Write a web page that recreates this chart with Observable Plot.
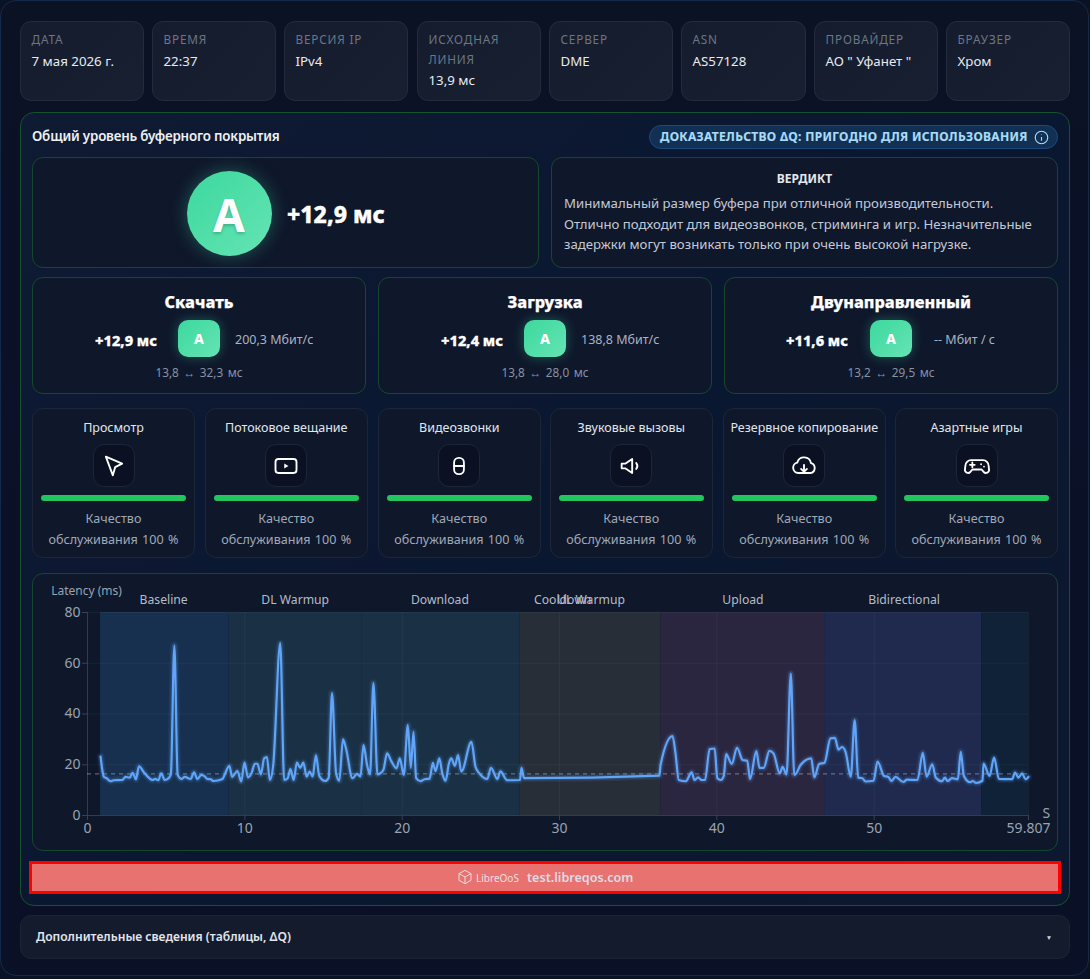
<!DOCTYPE html>
<html lang="ru"><head><meta charset="utf-8">
<script src="https://cdn.jsdelivr.net/npm/d3@7"></script>
<script src="https://cdn.jsdelivr.net/npm/@observablehq/plot@0.6"></script>
<style>
html,body{margin:0;padding:0;width:1090px;height:979px;overflow:hidden;background:#0a1226;font-family:"Noto Sans",sans-serif;color:#e5e7eb}
#page{position:relative;width:1090px;height:979px;overflow:hidden}
.box{position:absolute;box-sizing:border-box}
.t{position:absolute;white-space:nowrap;line-height:1;transform:translateY(-50%)}
.c{transform:translate(-50%,-50%)}
.r{transform:translate(-100%,-50%)}
.tile{background:linear-gradient(135deg,#3dd89e,#64e4b4);box-shadow:0 0 12px rgba(61,216,158,.35);display:flex;align-items:center;justify-content:center;color:#fff;font-weight:800}
#chart svg{display:block;overflow:hidden;background:transparent}
</style></head><body><div id="page"></div>
<script>
// ---------- data ----------
const headerLabels=["ДАТА","ВРЕМЯ","ВЕРСИЯ IP","ИСХОДНАЯ\nЛИНИЯ","СЕРВЕР","ASN","ПРОВАЙДЕР","БРАУЗЕР"];
const headerValues=["7 мая 2026 г.","22:37","IPv4","13,9 мс","DME","AS57128","АО \" Уфанет \"","Хром"];
const headerLefts=[20,152,284,417,549,681,814,946];
const dirNames=["Скачать","Загрузка","Двунаправленный"];
const dirDelta=["+12,9 мс","+12,4 мс","+11,6 мс"];
const dirSpeed=["200,3 Мбит/с","138,8 Мбит/с","-- Мбит / с"];
const dirRange=[["13,8","32,3"],["13,8","28,0"],["13,2","29,5"]];
const qosNames=["Просмотр","Потоковое вещание","Видеозвонки","Звуковые вызовы","Резервное копирование","Азартные игры"];
const verdictLines=["Минимальный размер буфера при отличной производительности.","Отлично подходит для видеозвонков, стриминга и игр. Незначительные","задержки могут возникать только при очень высокой нагрузке."];

const seconds=[.83,1.04,1.21,1.46,1.68,2.21,2.42,2.68,2.87,3.08,3.27,3.59,3.93,4.12,4.31,4.5,4.69,4.9,5.16,5.3,5.52,5.73,5.97,6.18,6.56,6.77,6.98,7.24,7.45,7.62,7.83,8.0,8.58,8.75,9.02,9.19,9.53,9.77,9.98,10.2,10.42,10.64,10.8,11.02,11.23,11.4,11.59,11.8,12.25,12.5,12.72,12.9,13.1,13.31,13.52,13.72,13.93,14.12,14.31,14.52,14.73,15.1,15.33,15.54,15.8,16.0,16.24,16.43,16.84,17.13,17.35,17.54,17.77,17.96,18.17,18.43,18.8,19.04,19.3,19.64,19.85,20.1,20.36,20.55,20.72,20.89,21.17,21.42,21.74,21.95,22.12,22.36,22.55,22.76,22.97,23.12,23.35,23.55,23.76,24.4,24.66,24.92,25.41,25.64,26.05,26.24,26.67,27.49,27.58,27.75,36.35,36.42,37.18,37.36,37.58,38.03,38.4,38.58,38.81,39.03,39.25,39.54,39.86,40.03,40.26,40.44,40.59,40.95,41.28,41.64,41.93,42.11,42.51,42.71,42.98,43.34,43.6,44.0,44.18,44.43,44.7,44.92,45.05,45.32,46.0,46.19,46.5,46.84,47.22,47.5,47.73,47.95,48.18,48.51,48.76,48.98,49.25,49.45,49.96,50.21,50.63,50.9,51.1,51.35,51.86,52.08,52.75,53.09,53.33,53.69,53.91,54.31,54.49,54.67,54.94,55.32,55.5,55.7,56.1,56.26,56.48,56.88,56.95,57.33,57.62,57.93,58.44,58.77,58.95,59.17,59.4,59.62,59.8];
const latency=[23.2,15.3,14.7,13.5,13.9,14,15.2,14.9,16.8,14.3,19.4,17,14.7,14,14.4,13.9,16.6,14,14.7,16.4,67,16,14.4,15.2,14.4,17,14.4,16,15.4,14.4,14.3,13.6,14.4,16.6,19.6,15.2,17.5,13.4,20.8,15,16.6,20.4,20.4,16.2,22.5,23,14,19.6,67.9,14,14.7,18.3,14,20.8,18.8,20.8,15.3,17.3,15.4,23.7,15.6,13.6,14.9,48.2,16.6,13.7,30,26.4,14.7,16.4,15.4,27.7,19.9,16.2,52.2,16.2,17.9,24.5,21.5,18.6,22.5,16,35.6,18.8,33,14.7,13.5,14.3,14.5,20.7,17.5,22.5,16.6,13.7,20.5,22.5,19.6,23.8,17.3,29,19.2,16.5,14.4,18.8,14.4,17.4,13.9,14,18.8,14.7,15.7,19.9,31.3,25.1,14,13.5,17,14,15,14,14,26.2,26.4,14.7,14,15.6,24.2,20.3,26.7,21.9,21.6,14.4,25.4,18.8,18.8,25.5,24.5,16.6,19.2,16.2,55.9,16,16.6,19.9,22.5,15,20.3,20.8,30.4,30.6,26,27,25.1,15.3,37.6,14.9,14.7,13.4,13.7,21.2,15.6,15.2,13.6,15.2,13.2,14.1,14,24.7,15.3,20.2,15,13.5,14.9,13.6,14.7,14.3,25.1,15.6,13.1,13.6,12.8,13.7,20.5,15.6,22.8,14.4,14.3,14.3,16.9,14.9,16.6,14.3,15.2];

const bandStart=[.83,9,17.47,27.5,36.46,46.85,56.84];
const bandEnd=[9,17.47,27.5,36.46,46.85,56.84,59.807];
const bandFill=["#17304f","#1a3044","#1a3044","#272e38","#2a2640","#1f2a4e","#102238"];
const phaseLabels=["Baseline","DL Warmup","Download","Cooldown","UL Warmup","Upload","Bidirectional"];
const phaseCentre=[4.84,13.2,22.4,30.2,32,41.66,51.9];
const yTicks=[0,20,40,60,80];
const xTicks=[0,10,20,30,40,50,59.807];
const baselineRef=16.4;

// ---------- helpers ----------
const page=document.getElementById("page");
function box(x,y,w,h,css,parent=page){const d=document.createElement("div");d.className="box";d.style.cssText=`left:${x}px;top:${y}px;width:${w}px;height:${h}px;`+css;parent.appendChild(d);return d}
function text(s,x,y,size,color,weight=400,align="",extra=""){const d=document.createElement("div");d.className="t "+align;d.textContent=s;d.style.cssText=`left:${x}px;top:${y}px;font-size:${size}px;color:${color};font-weight:${weight};`+extra;page.appendChild(d);return d}

// ---------- frame ----------
box(0,0,1089,976,"border-radius:16px;border:1px solid #14294a;background:linear-gradient(180deg,#0b1224,#0a1128 40%,#0a1126);");

// ---------- header ----------
headerLabels.forEach((l,i)=>{
  const x=headerLefts[i];
  box(x,21,i==5?125:124,79.5,"border-radius:11px;border:1px solid #232c3d;background:linear-gradient(135deg,#151c2e,#171f30);");
  const parts=l.split("\n");
  parts.forEach((p,j)=>text(p,x+11.5,40+j*19.5,11.8,"#6b7686",400,"","letter-spacing:.8px"));
  text(headerValues[i],x+11.5,parts.length>1?81:61.5,13.3,"#e8eaee");
});

// ---------- main panel ----------
box(20,112,1050,794,"border-radius:14px;border:1px solid #14532d;background:linear-gradient(135deg,#0f1a33,#0a1730 55%,#0b182f);");
text("Общий уровень буферного покрытия",32,137,13.4,"#eef0f3",600,"","letter-spacing:-.2px");
box(649,125,409,24,"border-radius:12px;border:1px solid #1d4a78;background:#123053;");
text("ДОКАЗАТЕЛЬСТВО ΔQ: ПРИГОДНО ДЛЯ ИСПОЛЬЗОВАНИЯ",660,137,12,"#a9dcf7",700,"","letter-spacing:.32px;-webkit-text-stroke:.15px #a9dcf7");
const panelCss="border-radius:11px;border:1px solid #15472f;background:#0f172b;";
box(32,157,507,111,panelCss);
box(551,157,507,111,panelCss);
box(186.5,171,85,85,"border-radius:50%;background:linear-gradient(135deg,#3dd89e,#64e4b4);box-shadow:0 0 18px rgba(61,216,158,.35);");
text("A",229,214,46,"#fff",700,"c","text-shadow:0 2px 3px rgba(0,0,0,.2)");
text("+12,9 мс",287,214,23,"#fff",800,"","-webkit-text-stroke:.4px #fff");
text("ВЕРДИКТ",804.5,178.5,12,"#e5e7eb",700,"c");
verdictLines.forEach((l,i)=>text(l,564,204+i*20.7,13.2,"#c3cad5"));

// info icon
const info=document.createElementNS("http://www.w3.org/2000/svg","svg");
info.setAttribute("width",15);info.setAttribute("height",15);info.setAttribute("viewBox","0 0 24 24");
info.style.cssText="position:absolute;left:1033.5px;top:129.5px;fill:none;stroke:#a9dcf7;stroke-width:1.8";
info.innerHTML='<circle cx="12" cy="12" r="10"/><path d="M12 11v6M12 7v1"/>';
page.appendChild(info);

// ---------- direction cards ----------
const dirLeft=[32,378,724],tileX=[178,524,870],deltaEnd=[157,503,848],speedX=[235,581,934],centre=[199,545,891];
dirNames.forEach((n,i)=>{
  box(dirLeft[i],277,334,117,panelCss);
  text(n,dirLeft[i]+167,302,16.3,"#fff",800,"c","-webkit-text-stroke:.25px #fff");
  text(dirDelta[i],deltaEnd[i],339.5,14.6,"#fff",800,"r","-webkit-text-stroke:.3px #fff");
  const t=box(tileX[i],320,42,37,"border-radius:10px;font-size:14px;");t.classList.add("tile");t.textContent="A";
  text(dirSpeed[i],speedX[i],339.5,12.5,"#aab3c0");
  text(`${dirRange[i][0]} ↔ ${dirRange[i][1]} мс`,centre[i],373,11.8,"#8792a3",400,"c","word-spacing:1.5px");
});

// ---------- QoS cards ----------
const icons=[
 '<path d="M5 4l14 6-6 3-2 7z"/>',
 '<rect x="3" y="6" width="18" height="12" rx="2.5"/><path d="M10.5 9.8v4.4l3.6-2.2z" fill="#fff" stroke="none"/>',
 '<rect x="7.8" y="5" width="8.4" height="14" rx="4"/><path d="M7.8 12h8.4"/>',
 '<path d="M4 10v4h3l6 4V6L7 10zM16.5 9.5a4 4 0 0 1 0 5"/>',
 '<path d="M7 18a4.5 4.5 0 0 1-.7-8.9A6 6 0 0 1 18 9.6 4.3 4.3 0 0 1 17.5 18zM12 11v6M9.5 14.5L12 17l2.5-2.5"/>',
 '<path d="M7 7h10a5 5 0 0 1 5 5l.3 3a2.6 2.6 0 0 1-4.6 2L16 15H8l-1.7 2a2.6 2.6 0 0 1-4.6-2L2 12a5 5 0 0 1 5-5zM6 11h4M8 9v4M15.5 10.5v.01M18 12.5v.01"/>'
];
const qosLeft=[32,205,378,550,723,895];
qosNames.forEach((n,i)=>{
  const x=qosLeft[i],w=i==5?163:(i==0?163:162.5);
  box(x,408,w,150,"border-radius:11px;border:1px solid #1c2638;background:#0f172b;");
  const cx=x+w/2;
  text(n,cx,427.5,12.5,"#e2e6ec",400,"c");
  box(cx-21,444,42,43,"border-radius:11px;border:1px solid #1c2638;background:#0b1122;");
  const s=document.createElementNS("http://www.w3.org/2000/svg","svg");
  s.setAttribute("width",28);s.setAttribute("height",28);s.setAttribute("viewBox","0 0 24 24");
  s.style.cssText=`position:absolute;left:${cx-14}px;top:452px;fill:none;stroke:#fff;stroke-width:1.6;stroke-linejoin:round;stroke-linecap:round`;
  s.innerHTML=icons[i];page.appendChild(s);
  box(x+9,494.5,w-18,6,"border-radius:3px;background:#22c55e;");
  text("Качество",cx,518.5,12.6,"#a0a9b6",400,"c");
  text("обслуживания 100 %",cx,539.5,12.6,"#a0a9b6",400,"c","word-spacing:1px");
});

// ---------- chart card ----------
box(32,573,1026,278,"border-radius:11px;border:1px solid #15472f;background:#0f172b;");
const chartHost=box(36,577,1014,270,"");chartHost.id="chart";

const series=seconds.map((t,i)=>({t,v:latency[i]}));
const bands=bandStart.map((s,i)=>({s,e:bandEnd[i],f:bandFill[i]}));
const phases=phaseLabels.map((l,i)=>({l,x:phaseCentre[i]}));
const grey="#9aa3b0";

chartHost.appendChild(Plot.plot({
  width:1014,height:270,marginLeft:51,marginRight:22,marginTop:35,marginBottom:32,
  style:{background:"transparent",fontFamily:'"Noto Sans",sans-serif',color:grey,overflow:"hidden"},
  x:{domain:[0,59.807],label:null},
  y:{domain:[0,80],label:null},
  marks:[
    Plot.rect(bands,{x1:"s",x2:"e",y1:()=>0,y2:()=>80,fill:"f"}),
    Plot.ruleY(yTicks,{stroke:"#fff",strokeOpacity:.045}),
    Plot.ruleX(xTicks,{stroke:"#fff",strokeOpacity:.045}),
    Plot.ruleY([0],{stroke:"#fff",strokeOpacity:.12}),
    Plot.ruleX([0],{stroke:"#fff",strokeOpacity:.12}),
    Plot.ruleY([baselineRef],{stroke:"#c8ced8",strokeOpacity:.42,strokeWidth:1.2,strokeDasharray:"4 4"}),
    Plot.line(series,{x:"t",y:"v",stroke:"#60a5fa",strokeWidth:8,strokeOpacity:.07,curve:"monotone-x"}),
    Plot.line(series,{x:"t",y:"v",stroke:"#60a5fa",strokeWidth:5,strokeOpacity:.17,curve:"monotone-x"}),
    Plot.line(series,{x:"t",y:"v",stroke:"#60a5fa",strokeWidth:2.2,curve:"monotone-x"}),
    Plot.axisX({ticks:xTicks,tickFormat:d=>String(d),tickSize:5,tickPadding:3,fontSize:14,stroke:"#39414f",color:grey,label:null}),
    Plot.axisY({ticks:yTicks,tickSize:5,tickPadding:2,fontSize:14,stroke:"#39414f",color:grey,label:null}),
    Plot.text(phases,{x:"x",y:()=>80,text:"l",dy:-12,fontSize:12.2,fill:"#b6bcc6"}),
    Plot.text(["Latency (ms)"],{x:()=>0,y:()=>80,dx:-1,dy:-21,fontSize:12,fill:"#9aa3b0"}),
    Plot.text(["Seconds"],{x:()=>59.807,y:()=>0,dx:14,dy:-2,textAnchor:"start",fontSize:14,fill:"#9aa3b0"})
  ]
}));

// ---------- highlighted source strip ----------
box(29,861,1032,33,"border:3px solid #f00;background:#e87270;");
const cube=document.createElementNS("http://www.w3.org/2000/svg","svg");
cube.setAttribute("width",16);cube.setAttribute("height",18);cube.setAttribute("viewBox","0 0 24 24");
cube.style.cssText="position:absolute;left:457px;top:868px;fill:none;stroke:#e9e3e6;stroke-width:1.4";
cube.innerHTML='<path d="M12 2l9 5v10l-9 5-9-5V7zM3 7l9 5 9-5M12 12v10"/>';
page.appendChild(cube);
text("LibreOoS",476,877.5,10,"#ecdfe2");
text("test.libreqos.com",527,877.5,12.6,"#dfdce6",600);

// ---------- details row ----------
box(20,915,1050,44,"border-radius:11px;border:1px solid #1b2334;background:#141b2d;");
text("Дополнительные сведения (таблицы, ΔQ)",36,937,12.1,"#e2e6ec",600);
text("▼",1049,938,6.5,"#cbd5e1",400,"c");
</script></body></html>
